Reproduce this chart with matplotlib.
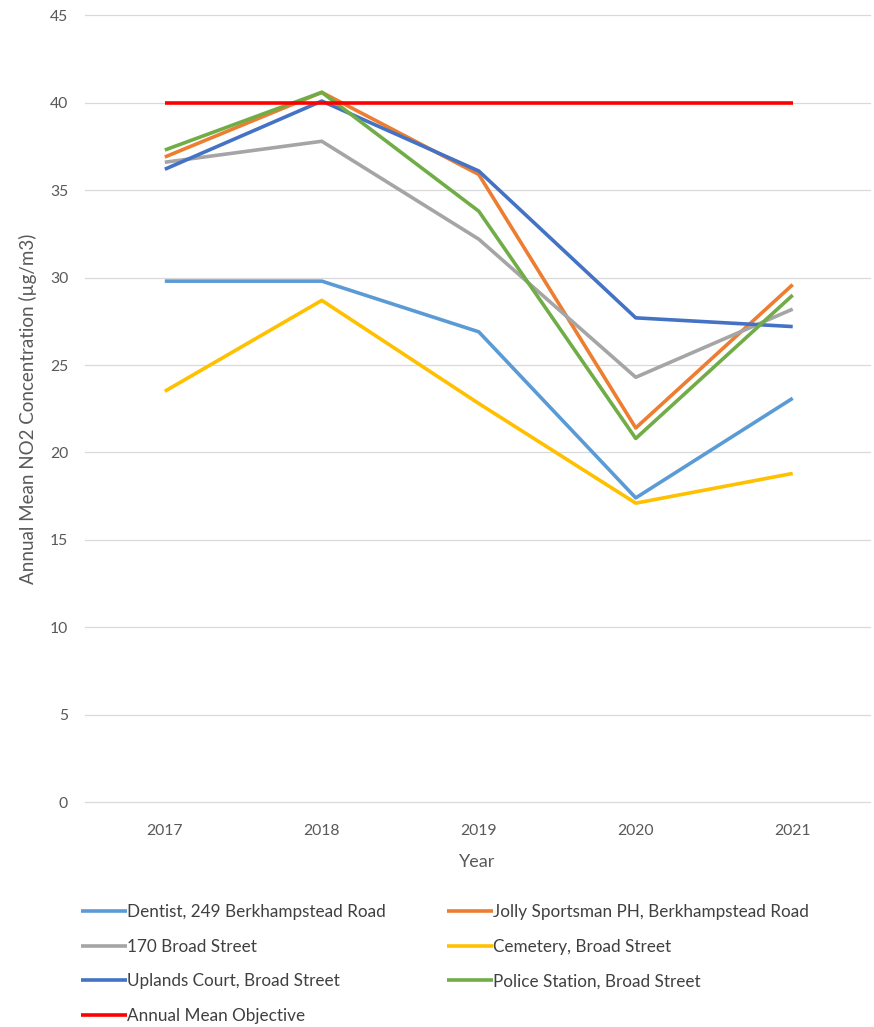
import matplotlib
matplotlib.use("Agg")
import matplotlib.pyplot as plt
from matplotlib.lines import Line2D

plt.rcParams['font.family'] = ['Lato', 'DejaVu Sans']

years = ["2017", "2018", "2019", "2020", "2021"]
dentist = [29.8, 29.8, 26.9, 17.4, 23.1]
jolly = [36.9, 40.6, 35.9, 21.4, 29.6]
broad170 = [36.6, 37.8, 32.2, 24.3, 28.2]
cemetery = [23.5, 28.7, 22.8, 17.1, 18.8]
uplands = [36.2, 40.1, 36.1, 27.7, 27.2]
police = [37.3, 40.6, 33.8, 20.8, 29.0]
objective = [40, 40, 40, 40, 40]

series = [
    ("Dentist, 249 Berkhampstead Road", dentist, "#5B9BD5"),
    ("Jolly Sportsman PH, Berkhampstead Road", jolly, "#ED7D31"),
    ("170 Broad Street", broad170, "#A5A5A5"),
    ("Cemetery, Broad Street", cemetery, "#FFC000"),
    ("Uplands Court, Broad Street", uplands, "#4472C4"),
    ("Police Station, Broad Street", police, "#70AD47"),
    ("Annual Mean Objective", objective, "#FF0000"),
]

fig = plt.figure(figsize=(8.74, 10.27), dpi=100)
ax = fig.add_axes([0.097, 0.219, 0.898, 0.766])

x = list(range(len(years)))
handles = {}
for name, vals, col in series:
    ln, = ax.plot(x, vals, color=col, lw=2.6, solid_capstyle='butt', label=name)
    handles[name] = ln

ax.set_xlim(-0.51, 4.49)
ax.set_ylim(0, 45)
ax.set_yticks(range(0, 46, 5))
ax.set_xticks(x)
ax.set_xticklabels(years)
ax.grid(axis='y', color='#D9D9D9', lw=0.9)
for gl in ax.get_ygridlines():
    gl.set_clip_on(False)
ax.set_axisbelow(True)
for s in ['top', 'right', 'left', 'bottom']:
    ax.spines[s].set_visible(False)
ax.tick_params(axis='both', length=0, labelsize=11.3, colors='#595959', pad=12)
ax.tick_params(axis='x', pad=16)
ax.set_xlabel("Year", fontsize=13, color='#595959', labelpad=11)
ax.set_ylabel("Annual Mean NO2 Concentration (µg/m3)", fontsize=13.5, color='#595959', labelpad=9)

order = ["Dentist, 249 Berkhampstead Road", "170 Broad Street", "Uplands Court, Broad Street",
         "Annual Mean Objective", "Jolly Sportsman PH, Berkhampstead Road",
         "Cemetery, Broad Street", "Police Station, Broad Street"]
leg = fig.legend([handles[n] for n in order], order, loc='upper left',
                 bbox_to_anchor=(0.075, 0.135), ncol=2, frameon=False,
                 fontsize=12.3, handlelength=2.7, handletextpad=0.0,
                 columnspacing=3.6, labelspacing=1.1)
for t in leg.get_texts():
    t.set_color('#404040')

fig.savefig("out.png", dpi=100, facecolor='white')
